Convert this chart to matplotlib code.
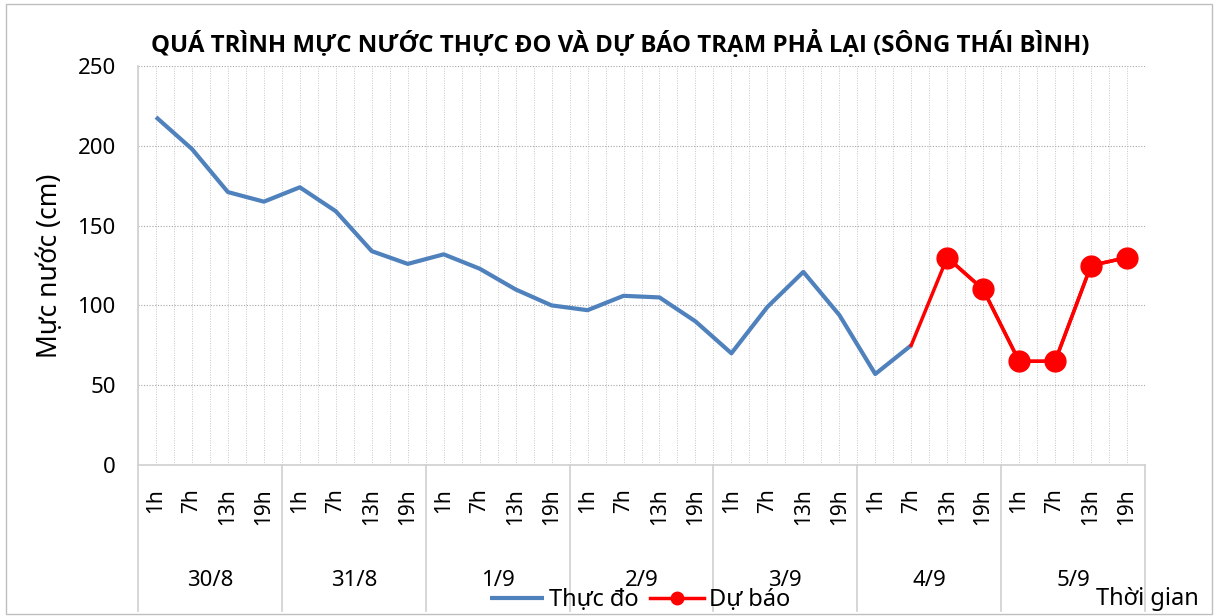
import matplotlib
matplotlib.use("Agg")
import matplotlib.pyplot as plt
import matplotlib.transforms as mtransforms
from matplotlib.lines import Line2D
from matplotlib.patches import Rectangle

plt.rcParams['font.family'] = ['Noto Sans', 'DejaVu Sans']

# data
days = ["30/8", "31/8", "1/9", "2/9", "3/9", "4/9", "5/9"]
hours = ["1h", "7h", "13h", "19h"]
thuc_do = [218, 198, 171, 165, 174, 159, 134, 126,
           132, 123, 110, 100, 97, 106, 105, 90,
           70, 99, 121, 94, 57, 75]
du_bao = [75, 130, 110, 65, 65, 125, 130]
du_bao_start = 21

blue = "#4F81BD"
red = "#FF0000"
grid_c = "#A6A6A6"

n = len(days) * len(hours)
x = list(range(n))

fig = plt.figure(figsize=(12.21, 6.16), dpi=100)
ax = fig.add_axes([138 / 1221, 1 - 465 / 616, (1145 - 138) / 1221, (465 - 66) / 616])

ax.plot(x[:len(thuc_do)], thuc_do, color=blue, lw=3, solid_capstyle='butt',
        label="Thực đo", zorder=3)
xf = x[du_bao_start:du_bao_start + len(du_bao)]
ax.plot(xf, du_bao, color=red, lw=2.5, zorder=4)
ax.plot(xf[1:], du_bao[1:], color=red, lw=2.5, marker='o', markersize=15,
        label="Dự báo", zorder=4)

ax.set_xlim(-0.5, n - 0.5)
ax.set_ylim(0, 250)
ax.set_yticks(range(0, 251, 50))
ax.tick_params(axis='y', length=0, labelsize=16, pad=16)

ax.set_xticks(x)
ax.set_xticklabels(hours * len(days), rotation=90, fontsize=15)
ax.set_xticks([i - 0.5 for i in range(n + 1)], minor=True)
ax.tick_params(axis='x', which='both', length=0, pad=17)

ax.grid(True, axis='y', which='major', color=grid_c, ls=(0, (1, 1.5)), lw=0.8)
ax.grid(True, axis='x', which='both', color="#C8C8C8", ls=(0, (1, 1.5)), lw=0.7)

for s in ['top', 'right']:
    ax.spines[s].set_visible(False)
ax.spines['left'].set_color("#D0D0D0")
ax.spines['bottom'].set_color("#D0D0D0")
ax.spines['left'].set_linewidth(1.2)
ax.spines['bottom'].set_linewidth(1.2)

# multi-level category axis: day groups
trans = mtransforms.blended_transform_factory(ax.transData, ax.transAxes)
for d in range(len(days) + 1):
    xb = d * len(hours) - 0.5
    ax.add_line(Line2D([xb, xb], [0, -0.365], transform=trans, color="#D0D0D0",
                       lw=1.2, clip_on=False))
for d, lab in enumerate(days):
    ax.text(d * len(hours) + 1.5, -(581 - 465) / 399, lab, transform=trans,
            ha='center', va='center', fontsize=16)

ax.set_ylabel("Mực nước (cm)", fontsize=19, labelpad=10)

fig.text(620 / 1221, 1 - 44 / 616,
         "QUÁ TRÌNH MỰC NƯỚC THỰC ĐO VÀ DỰ BÁO TRẠM PHẢ LẠI (SÔNG THÁI BÌNH)",
         ha='center', va='center', fontsize=17.3, fontweight='bold',
         family=['Open Sans', 'Liberation Sans', 'DejaVu Sans'])

ax.legend(loc='center', bbox_to_anchor=(640 / 1221, 1 - 600 / 616),
          bbox_transform=fig.transFigure, ncol=2, frameon=False, fontsize=17,
          markerscale=0.6, handlelength=2.3, columnspacing=0.5, handletextpad=0.2)
fig.text(1147 / 1221, 1 - 599 / 616, "Thời gian", ha='center', va='center',
         fontsize=17)

fig.patches.append(Rectangle((6 / 1221, 2 / 616), 1206 / 1221, 610 / 616,
                             transform=fig.transFigure, fill=False,
                             edgecolor="#BFBFBF", lw=1))

fig.savefig("out.png", dpi=100)
